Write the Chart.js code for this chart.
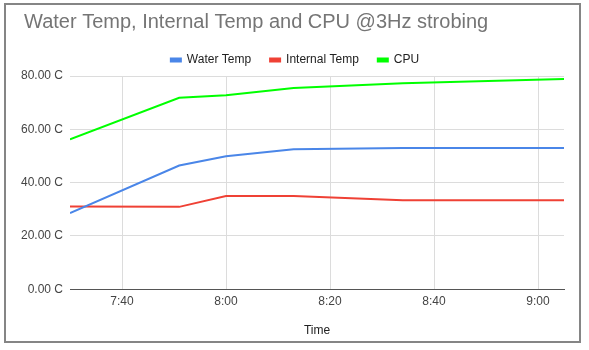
<!DOCTYPE html>
<html>
<head>
<meta charset="utf-8">
<script src="https://cdn.jsdelivr.net/npm/chart.js@4.4.1/dist/chart.umd.min.js"></script>
<style>
    body { margin: 0; background: white; }
    #wrap { width: 589px; height: 350px; }
</style>
</head>
<body>
<div id="wrap"><canvas id="myChart" width="589" height="350"></canvas></div>
<script>
let timeLabels = ['7:30', '7:51', '8:00', '8:13', '8:34', '9:05'];
let waterTemp = [28.6, 46.4, 49.9, 52.5, 53.0, 53.0];
let internalTemp = [31.0, 30.9, 35.0, 35.0, 33.4, 33.4];
let cpuTemp = [56.2, 71.8, 72.8, 75.5, 77.3, 78.9];
let xTickLabels = ['7:40', '8:00', '8:20', '8:40', '9:00'];
let yTicks = [0, 20, 40, 60, 80];

const toMinutes = (t) => {
    let parts = t.split(':');
    return parseInt(parts[0]) * 60 + parseInt(parts[1]);
};

const toPoints = (values) => timeLabels.map((t, i) => ({ x: toMinutes(t), y: values[i] }));

const fmtTime = (m) => Math.floor(m / 60) + ':' + String(m % 60).padStart(2, '0');

const plugin = {
    id: 'custom_background_and_border',
    afterLayout: (chart) => {
        // title sits a bit right of the y labels, legend a bit right of centre
        if (chart.titleBlock) chart.titleBlock.left = 24;
        if (chart.legend) {
            chart.legend.left += 6;
            chart.legend.right += 6;
        }
    },
    beforeDraw: (chart) => {
        const ctx = chart.ctx;
        ctx.save();
        ctx.globalCompositeOperation = 'destination-over';
        ctx.fillStyle = 'white';
        ctx.fillRect(0, 0, chart.width, chart.height);
        ctx.restore();
    },
    afterDraw: (chart) => {
        const ctx = chart.ctx;
        ctx.save();
        ctx.strokeStyle = '#858585';
        ctx.lineWidth = 2;
        ctx.strokeRect(5, 4, 575, 338);
        ctx.restore();
    }
};

const font = "Arial, 'Liberation Sans', sans-serif";

var ctx = document.getElementById("myChart").getContext("2d");

var myChart = new Chart(ctx, {
    type: 'line',
    plugins: [plugin],
    data: {
        datasets: [{
            label: 'Water Temp',
            data: toPoints(waterTemp),
            borderColor: '#4a86e8',
            backgroundColor: '#4a86e8',
            borderWidth: 2,
            pointRadius: 0,
            tension: 0
        }, {
            label: 'Internal Temp',
            data: toPoints(internalTemp),
            borderColor: '#ef4135',
            backgroundColor: '#ef4135',
            borderWidth: 2,
            pointRadius: 0,
            tension: 0
        }, {
            label: 'CPU',
            data: toPoints(cpuTemp),
            borderColor: '#00ff00',
            backgroundColor: '#00ff00',
            borderWidth: 2,
            pointRadius: 0,
            tension: 0
        }]
    },
    options: {
        responsive: false,
        animation: false,
        layout: { padding: { left: 14, right: 25, top: 8, bottom: 8 } },
        plugins: {
            title: {
                display: true,
                text: 'Water Temp, Internal Temp and CPU @3Hz strobing',
                align: 'start',
                color: '#757575',
                font: { family: font, size: 20, weight: 'normal' },
                padding: { top: 2, bottom: 1 }
            },
            legend: {
                display: true,
                labels: {
                    boxWidth: 10,
                    boxHeight: 3,
                    color: '#222',
                    padding: 19,
                    font: { family: font, size: 12 }
                }
            },
            tooltip: { enabled: false }
        },
        scales: {
            x: {
                type: 'linear',
                min: toMinutes('7:30'),
                max: toMinutes('9:05'),
                afterBuildTicks: (scale) => {
                    scale.ticks = xTickLabels.map(t => ({ value: toMinutes(t) }));
                },
                ticks: {
                    color: '#444',
                    padding: 5,
                    maxRotation: 0,
                    font: { family: font, size: 12 },
                    callback: (v) => fmtTime(v)
                },
                grid: { color: '#dcdcdc', drawTicks: false },
                border: { color: '#555', width: 1 },
                title: {
                    display: true,
                    text: 'Time',
                    color: '#222',
                    font: { family: font, size: 12 },
                    padding: { top: 10, bottom: 4 }
                }
            },
            y: {
                min: 0,
                max: 80,
                afterBuildTicks: (scale) => {
                    scale.ticks = yTicks.map(v => ({ value: v }));
                },
                afterFit: (scale) => { scale.width = 56; },
                ticks: {
                    color: '#444',
                    padding: 7,
                    font: { family: font, size: 12 },
                    callback: (v) => v.toFixed(2) + ' C'
                },
                grid: { color: '#dcdcdc', drawTicks: false },
                border: { display: false }
            }
        }
    }
});
</script>
</body>
</html>
